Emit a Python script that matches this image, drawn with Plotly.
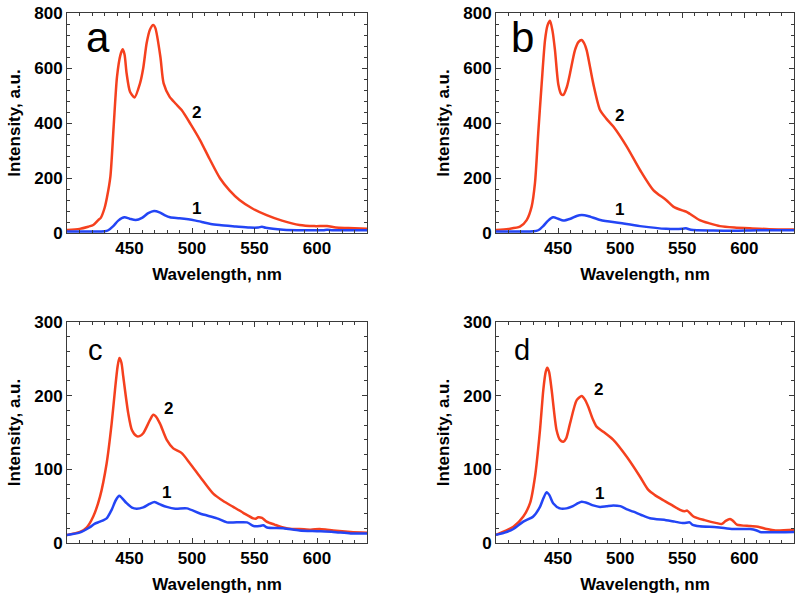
import plotly.graph_objects as go
from plotly.subplots import make_subplots

# ---------------- data ----------------
wl_a2 = [400,410,417,421,425,427,430,432,434.7,437.3,440,442.7,444.5,446,447.7,450.4,454,458.4,461,463.7,466.4,469,470.7,474.7,477.3,482,487,491.7,499,506.4,514,522.4,530,538,548,559.7,572,586,598,608,615,625,640]
in_a2 = [11,15,23,29,47,55,90,130,205,386,568,647,668,650,580,514,493,544,600,690,740,756,745,641,544,496,470,447,395,338,270,199,155,120,90,65,45,29,25,25,20,18,15]
wl_a1 = [400,420,430,433,437,441,446,450,455,460,465,469.6,474,478,482.4,490,497,503,509,515,522,535,546,553,556,559,573,590,605,608,613,640]
in_a1 = [5,5,6,10,25,45,57,52,47,55,72,80,75,65,57,54,50,45,39,33,29,24,20,20,23,19,12,10,10,12,10,10]

wl_b2 = [400,410,419.3,424.7,428.7,431.4,434,436.8,439.5,441.5,443.5,445.5,447.5,450.2,452.5,454.2,457,459.6,463.6,466.5,468.9,471,473,478.3,483.8,489,494.5,505.3,516,526.7,537,542.8,550,553.5,556,564,572,580.4,592,604.6,620,640]
in_b2 = [11,15,23,47,96,182,362,544,702,755,772,735,665,540,505,502,530,580,665,695,702,690,665,544,447,415,387,314,229,156,120,96,82,77,70,47,35,25,20,17,14,13]
wl_b1 = [400,420,430,434,438,442,446,450,454.2,460,465,469,474,484,500,516,537,550,553,557,575,591,605,618,640]
in_b1 = [5,5,6,10,25,45,57,52,45,52,62,65,62,47,36,25,15,15,17,12,9,8,9,10,10]

wl_c2 = [400,410.4,415.7,421,426.4,431.7,435.7,438.4,440.5,441.9,443.5,445,449,452,455.7,458,461,466.4,469,471,474.4,479.8,485,491.8,498.4,506.4,517,525,533,541,549,551,553,556,559.7,566,573,580,586,595,602,608,613,627,640]
in_c2 = [11,15,21,36,63,108,162,208,240,251,245,226,176,153,145,145,149,167,174,172,162,140,128.5,122,108,90,67,57,49,41,33.5,33,35,34,29,25,21,19,19,18,19,18,17,15,14]
wl_c1 = [400,410,418,422,426.4,431.7,435.7,439,441.9,444,447.7,452,455.7,461,466,470,475,479.8,486.7,496,506.4,520,528,544,549.3,554,557,560,573,586,600,613,627,640]
in_c1 = [11,14,21,26,29,33.5,45,58,64,61,54,48,46.6,48.4,53,55.6,52,49,46.6,47,40,33.5,28,28,23,23,24,21,20,17,16,15,13,13]

wl_d2 = [400,407,414,422,427.4,431.4,435.4,438.1,440,441.3,442.8,444.8,448.8,451.5,454.2,456.5,459.6,465,469,471.5,474.3,478,481,486.4,494.5,505.3,516,522.7,528,534.8,541,548.2,552,554,559,568,577.8,582,585,588.5,591,594,604.6,611,618,625,640]
in_d2 = [11,16,22,36,54,90,153,208,232,238,232,208,153,140,137.5,142,162,194,199.5,195,185,168,158,151,140,117,90,72,65,58,52,45,43,44,36,31,27,26,30,32.6,30,25,23,22,19,17,18]
wl_d1 = [400,407,414,422,430,435.4,438,440.8,443,446,451.4,456.8,462,466,469,474,478.3,483.8,489,494.5,500,505,510.6,517,524,537,544,551,556,558,564,577.8,591,604.6,610,612.6,618,640]
in_d1 = [11,14,19,29,36,49,60,69,65,54,47,47,50,54,56,54,51,49,50,51,50,46,42.5,38,33.5,31,29,27,28,25,22.6,21.5,19,19,17,15,14.5,15]

panel_letters = ["a", "b", "c", "d"]
x_tickvals = [450, 500, 550, 600]
x_range = [400, 640]
y_ranges = [[0, 800], [0, 800], [0, 300], [0, 300]]
y_dticks = [200, 200, 100, 100]
x_title = "Wavelength, nm"
y_title = "Intensity, a.u."

# label positions (data coords)
letter_pos = [(425, 712), (421.3, 711), (422.4, 262), (420.7, 262)]
label2_pos = [(503.7, 437), (499.3, 429), (481, 183), (482.5, 208)]
label1_pos = [(503.7, 90), (499.3, 87), (479.7, 69), (483.3, 67.5)]
letter_sizes = [42, 42, 29, 29]

RED = "#f5401e"
BLUE = "#2345f5"
FONT = "Liberation Sans, Arial, sans-serif"

series = [
    (wl_a1, in_a1, wl_a2, in_a2),
    (wl_b1, in_b1, wl_b2, in_b2),
    (wl_c1, in_c1, wl_c2, in_c2),
    (wl_d1, in_d1, wl_d2, in_d2),
]

W, H = 800, 599

def xd(p0, p1):
    return [p0 / W, p1 / W]

def yd(top, bottom):
    return [1 - bottom / H, 1 - top / H]

fig = make_subplots(rows=2, cols=2)
pos = [(1, 1), (1, 2), (2, 1), (2, 2)]
for i, (x1, y1, x2, y2) in enumerate(series):
    r, c = pos[i]
    fig.add_trace(go.Scatter(x=x2, y=y2, mode="lines", line=dict(color=RED, width=2.5, shape="spline", smoothing=0.7),
                             showlegend=False, hoverinfo="skip"), row=r, col=c)
    fig.add_trace(go.Scatter(x=x1, y=y1, mode="lines", line=dict(color=BLUE, width=2.5, shape="spline", smoothing=0.7),
                             showlegend=False, hoverinfo="skip"), row=r, col=c)

x_domains = [xd(67, 367), xd(496, 794), xd(67, 367), xd(496, 794)]
y_domains = [yd(13, 233), yd(13, 233), yd(322, 543), yd(322, 543)]

axis_common = dict(showgrid=False, zeroline=False, showline=True, linecolor="#3a3a3a", linewidth=1,
                   mirror="allticks", ticks="inside", ticklen=5, tickcolor="#3a3a3a", tickwidth=1,
                   automargin=False, ticklabeloverflow="allow",
                   tickfont=dict(family=FONT, size=17, color="black", weight="bold"))

for i in range(4):
    sfx = "" if i == 0 else str(i + 1)
    fig.layout["xaxis" + sfx].update(
        domain=x_domains[i], range=x_range, tickmode="array", tickvals=x_tickvals,
        minor=dict(dtick=10, tick0=400, ticks="inside", ticklen=3, tickcolor="#3a3a3a"),
        title=dict(text=x_title, font=dict(family=FONT, size=17, color="black", weight="bold"), standoff=10),
        **axis_common)
    fig.layout["yaxis" + sfx].update(
        domain=y_domains[i], range=y_ranges[i], dtick=y_dticks[i], tick0=0,
        minor=dict(dtick=y_dticks[i] / 5, tick0=0, ticks="inside", ticklen=3, tickcolor="#3a3a3a"),
        title=dict(text=y_title, font=dict(family=FONT, size=17, color="black", weight="bold"), standoff=9),
        **axis_common)
    xr = "x" + sfx
    yr = "y" + sfx
    fig.add_annotation(x=letter_pos[i][0], y=letter_pos[i][1], xref=xr, yref=yr, text=panel_letters[i],
                       showarrow=False, font=dict(family=FONT, size=letter_sizes[i], color="black"),
                       xanchor="center", yanchor="middle")
    fig.add_annotation(x=label2_pos[i][0], y=label2_pos[i][1], xref=xr, yref=yr, text="2",
                       showarrow=False, font=dict(family=FONT, size=17, color="black", weight="bold"),
                       xanchor="center", yanchor="middle")
    fig.add_annotation(x=label1_pos[i][0], y=label1_pos[i][1], xref=xr, yref=yr, text="1",
                       showarrow=False, font=dict(family=FONT, size=17, color="black", weight="bold"),
                       xanchor="center", yanchor="middle")

fig.update_layout(template="none", width=W, height=H, margin=dict(l=0, r=0, t=0, b=0),
                  plot_bgcolor="white", paper_bgcolor="white")

# remove the browser's default 8px body margin so the figure sits at the page's top-left corner
fig.write_html("out.html", config={"displayModeBar": False},
               post_script="document.body.style.margin='0';document.body.style.overflow='hidden';")
